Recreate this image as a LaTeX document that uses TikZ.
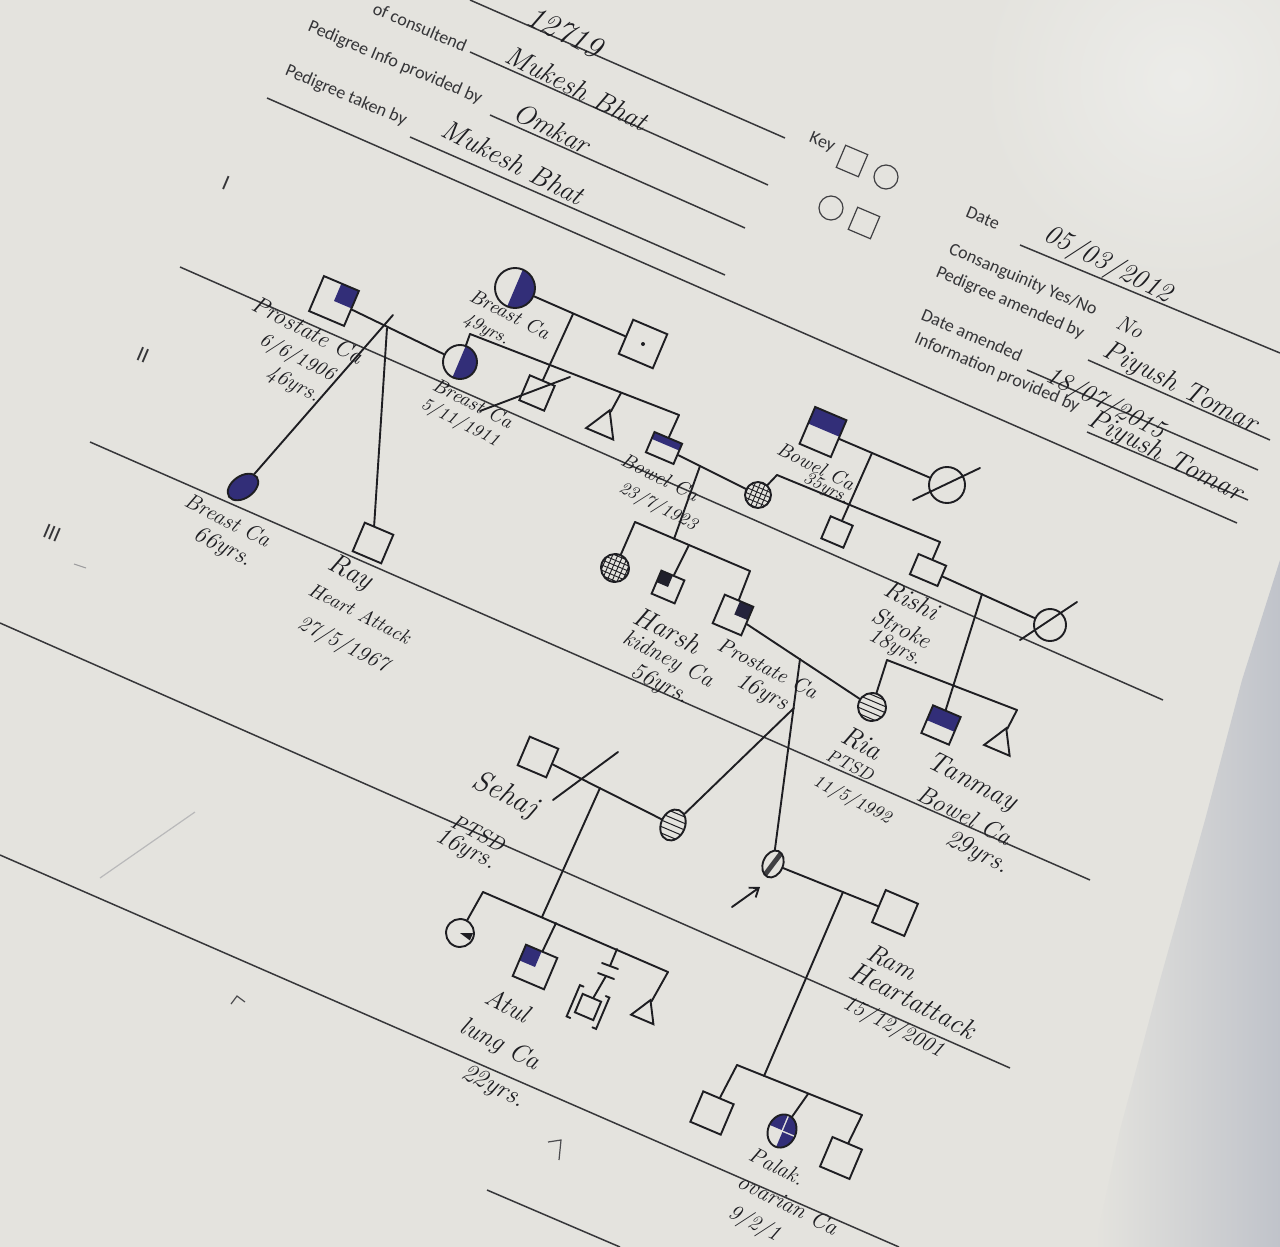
\documentclass[tikz,border=0pt]{standalone}
\usepackage{fontspec}
\newfontfamily\formfont{Carlito}
\usetikzlibrary{shapes.geometric,calc,arrows.meta}
\definecolor{paper}{RGB}{228,227,222}
\definecolor{paperlight}{RGB}{236,236,233}
\definecolor{edge}{RGB}{192,195,202}
\definecolor{ink}{RGB}{30,30,34}
\definecolor{pen}{RGB}{50,46,120}
\definecolor{rule}{RGB}{55,55,58}
\pgfdeclarelayer{back}
\pgfsetlayers{back,main}
\newcommand\hw[1]{\fontsize{#1}{#1}\selectfont\itshape}
% local drawing inside a symbol, in the tilted frame of the sheet
\newcommand\tint[2]{\begin{scope}[shift={(#1.center)},rotate=-23]#2\end{scope}}

\tikzset{
  sym/.style={draw=ink, line width=0.95pt, inner sep=0pt, rotate=-23},
  male/.style={sym, rectangle, minimum width=#1, minimum height=#1},
  boxwh/.style 2 args={sym, rectangle, minimum width=#1, minimum height=#2},
  female/.style={sym, circle, minimum size=#1},
  oval/.style 2 args={sym, ellipse, minimum width=#1, minimum height=#2},
  tri/.style={sym, regular polygon, regular polygon sides=3, minimum size=#1},
  keysym/.style={draw=ink!85, line width=0.6pt},
  link/.style={draw=ink, line width=0.95pt, line cap=round},
  rulefine/.style={draw=rule, line width=0.75pt},
  form/.style={font=\formfont\fontsize{9}{9}\selectfont, text=ink!90, rotate=-23, inner sep=0pt},
  hand/.style={font=\hw{#1}, text=ink, rotate=-27, inner sep=0pt},
  hand/.default=12,
}

\begin{document}
\begin{tikzpicture}[x=0.5pt,y=-0.5pt]
\useasboundingbox (0,0) rectangle (1280,1247);

% ---------- header of the form ----------
\node[form] (f1) at (420,27) {of consultend};
\node[form] (f2) at (395,63) {Pedigree Info provided by};
\node[form] (f3) at (346,96) {Pedigree taken by};
\node[form] (f4) at (822,143) {Key};
\node[form] (f5) at (983,218) {Date};
\node[form] (f6) at (1023,280) {Consanguinity Yes/No};
\node[form] (f7) at (1010,303) {Pedigree amended by};
\node[form] (f8) at (972,335) {Date amended};
\node[form] (f9) at (997,373) {Information provided by};
\node[form, font=\formfont\fontsize{11}{11}\selectfont] (g1) at (226,183) {I};
\node[form, font=\formfont\fontsize{11}{11}\selectfont] (g2) at (143,355) {II};
\node[form, font=\formfont\fontsize{11}{11}\selectfont] (g3) at (52,533) {III};

\node[hand=16] (h1) at (565,32) {12719};
\node[hand=14] (h2) at (577,88) {Mukesh Bhat};
\node[hand=14] (h3) at (552,128) {Omkar};
\node[hand=14] (h4) at (513,162) {Mukesh Bhat};
\node[hand=14] (h5) at (1108,265) {05/03/2012};
\node[hand=11] (h6) at (1130,327) {No};
\node[hand=14] (h7) at (1180,388) {Piyush Tomar};
\node[hand=13] (h8) at (1105,404) {18/07/2015};
\node[hand=14] (h9) at (1165,457) {Piyush Tomar};

% key symbols
\node[sym, keysym, rectangle, minimum size=12pt] (k1) at (852,161) {};
\node[sym, keysym, circle, minimum size=12pt] (k2) at (886,177) {};
\node[sym, keysym, circle, minimum size=12pt] (k3) at (831,208) {};
\node[sym, keysym, rectangle, minimum size=12pt] (k4) at (864,223) {};

% ---------- individuals ----------
% generation I
\node[male=19pt] (pa) at (334,301) {};
\node[female=20pt] (ba) at (515,288) {};
\node[male=18.5pt] (pb) at (643,344) {};
% generation II
\node[female=17pt] (bb) at (460,362) {};
\node[male=13.5pt] (sq2) at (537,393) {};
\node[tri=17pt] (tr1) at (603,426) {};
\node[boxwh={15pt}{11pt}] (bw1) at (664,448) {};
\node[female=13pt] (hc) at (758,495) {};
\node[boxwh={17pt}{20pt}] (bw2) at (823,432) {};
\node[female=18pt] (xc) at (947,485) {};
\node[male=12pt] (sm) at (837,532) {};
\node[boxwh={15pt}{11pt}] (ri) at (928,570) {};
\node[female=16pt] (xc2) at (1050,625) {};
% generation III
\node[draw=ink, fill=pen, line width=0.95pt, ellipse, inner sep=0pt,
      minimum width=17pt, minimum height=11pt, rotate=35] (bc) at (243,487) {};
\node[male=15.5pt] (ray) at (373,543) {};
\node[female=14pt] (gc) at (615,568) {};
\node[male=12.5pt] (ha) at (668,587) {};
\node[male=15.5pt] (pc) at (733,615) {};
\node[female=14pt] (ria) at (872,707) {};
\node[male=15pt] (tan) at (941,725) {};
\node[tri=16pt] (tr2) at (1000,743) {};
% generation IV
\node[male=15.5pt] (seh) at (538,757) {};
\node[oval={12pt}{16pt}] (so) at (673,825) {};
\node[oval={10pt}{14pt}] (pro) at (773,864) {};
\node[male=17.5pt] (ram) at (895,913) {};
% generation V
\node[female=14pt] (c1) at (460,933) {};
\node[male=17pt] (atul) at (535,967) {};
\node[male=10pt] (ad) at (588,1007) {};
\node[tri=14pt] (tr3) at (645,1013) {};
\node[male=16.5pt] (s1) at (712,1113) {};
\node[oval={14pt}{17pt}] (pal) at (782,1131) {};
\node[male=16pt] (s2) at (841,1158) {};

% ---------- connectors ----------
% Prostate Ca x Breast Ca 5/11/1911
\draw[link] (pa) -- (bb);
\coordinate (dA) at (393,315);
\coordinate (mA) at (387,328);
\draw[link] (dA) -- (bc);
\draw[link] (mA) -- (ray);
% Breast Ca 49 yrs x partner
\draw[link] (ba) -- (pb);
\coordinate (mB) at (573,314);
\coordinate (sB1) at (470,334);
\coordinate (sB2) at (679,415);
\coordinate (sB3) at (621,393);
\draw[link] (sB1) -- (sB2);
\draw[link] (sB1) -- (bb);
\draw[link] (mB) -- (sq2);
\draw[link] (sB3) -- (tr1);
\draw[link] (sB2) -- (bw1);
\draw[link] ($(sq2)+(-57,18)$) -- ($(sq2)+(33,-16)$);
% Bowel Ca 23/7/1923 x partner
\draw[link] (bw1) -- (hc);
\coordinate (mC) at (700,466);
\coordinate (sC1) at (635,522);
\coordinate (sC2) at (750,571);
\coordinate (sCm) at (674,539);
\coordinate (sC3) at (689,545);
\draw[link] (mC) -- (sCm);
\draw[link] (sC1) -- (sC2);
\draw[link] (sC1) -- (gc);
\draw[link] (sC3) -- (ha);
\draw[link] (sC2) -- (pc);
% Bowel Ca 35 yrs x partner
\draw[link] (bw2) -- (xc);
\draw[link] ($(xc)+(-34,15)$) -- ($(xc)+(33,-17)$);
\coordinate (mD) at (872,453);
\coordinate (sD1) at (777,475);
\coordinate (sD2) at (940,542);
\draw[link] (sD1) -- (sD2);
\draw[link] (mD) -- (sm);
\draw[link] (sD1) -- (hc);
\draw[link] (sD2) -- (ri);
% Rishi x partner
\draw[link] (ri) -- (xc2);
\draw[link] ($(xc2)+(-30,15)$) -- ($(xc2)+(27,-23)$);
\coordinate (mE) at (982,594);
\coordinate (sE1) at (887,660);
\coordinate (sE2) at (1017,710);
\draw[link] (sE1) -- (sE2);
\draw[link] (mE) -- (tan);
\draw[link] (sE1) -- (ria);
\draw[link] (sE2) -- (tr2);
% Prostate Ca 16 yrs x Ria
\draw[link] (pc) -- (ria);
\coordinate (mF) at (800,659);
\coordinate (dF) at (794,708);
\draw[link] (mF) -- (pro);
\draw[link] (dF) -- (so);
% Sehaj x partner
\draw[link] (seh) -- (so);
\draw[link] ($(seh)+(15,43)$) -- ($(seh)+(80,-5)$);
\coordinate (mG) at (600,788);
\coordinate (sG1) at (483,892);
\coordinate (sG2) at (668,972);
\coordinate (sGm) at (542,917);
\coordinate (sG3) at (556,923);
\coordinate (sG4) at (617,949);
\coordinate (bA) at (610,966);
\coordinate (bB) at (606,976);
\draw[link] (mG) -- (sGm);
\draw[link] (sG1) -- (sG2);
\draw[link] (sG1) -- (c1);
\draw[link] (sG3) -- (atul);
\draw[link] (sG4) -- (bA);
\draw[link] (bB) -- (ad);
\draw[link] ($(bA)+(-8,-3)$) -- ($(bA)+(8,3)$);
\draw[link] ($(bB)+(-8,-3)$) -- ($(bB)+(8,3)$);
\draw[link] (sG2) -- (tr3);
\tint{ad}{\draw[link] (-6pt,8.5pt) -- (-8pt,8.5pt) -- (-8pt,-8.5pt) -- (-6pt,-8.5pt);
          \draw[link] (6pt,8.5pt) -- (8pt,8.5pt) -- (8pt,-8.5pt) -- (6pt,-8.5pt);}
% proband x Ram
\draw[link] (pro) -- (ram);
\coordinate (mH) at (843,892);
\coordinate (sH1) at (737,1065);
\coordinate (sH2) at (862,1115);
\coordinate (sHm) at (764,1076);
\coordinate (sH3) at (808,1094);
\draw[link] (mH) -- (sHm);
\draw[link] (sH1) -- (sH2);
\draw[link] (sH1) -- (s1);
\draw[link] (sH3) -- (pal);
\draw[link] (sH2) -- (s2);
% proband arrow
\coordinate (arT) at (732,907);
\coordinate (arH) at (760,887);
\draw[link, -{Straight Barb[length=4pt,width=6pt]}] (arT) -- (arH);

% ---------- handwritten notes ----------
\node[hand=12] (lpa1) at (308,330) {Prostate Ca};
\node[hand=10] (lpa2) at (297,358) {6/6/1906};
\node[hand=11] (lpa3) at (293,385) {46yrs.};
\node[hand=10] (lba1) at (510,314) {Breast Ca};
\node[hand=9] (lba2) at (486,330) {49yrs.};
\node[hand=10] (lbb1) at (473,403) {Breast Ca};
\node[hand=9] (lbb2) at (460,423) {5/11/1911};
\node[hand=11] (lbc1) at (228,520) {Breast Ca};
\node[hand=12] (lbc2) at (223,548) {66yrs.};
\node[hand=14] (lry1) at (350,573) {Ray};
\node[hand=10] (lry2) at (360,613) {Heart Attack};
\node[hand=11] (lry3) at (343,645) {27/5/1967};
\node[hand=10] (lbw1) at (660,477) {Bowel Ca};
\node[hand=9] (lbw2) at (658,507) {23/7/1923};
\node[hand=10] (lbx1) at (816,466) {Bowel Ca};
\node[hand=9] (lbx2) at (826,489) {35yrs.};
\node[hand=13] (lri1) at (912,600) {Rishi};
\node[hand=12] (lri2) at (902,628) {Stroke};
\node[hand=11] (lri3) at (895,648) {18yrs.};
\node[hand=14] (lha1) at (668,630) {Harsh};
\node[hand=11.5] (lha2) at (668,660) {kidney Ca};
\node[hand=12] (lha3) at (660,685) {56yrs.};
\node[hand=10.5] (lpc1) at (768,668) {Prostate Ca};
\node[hand=12] (lpc2) at (762,693) {16yrs};
\node[hand=14] (lria1) at (862,743) {Ria};
\node[hand=9] (lria2) at (850,765) {PTSD};
\node[hand=9] (lria3) at (852,800) {11/5/1992};
\node[hand=14] (ltn1) at (972,783) {Tanmay};
\node[hand=12.5] (ltn2) at (965,815) {Bowel Ca};
\node[hand=13] (ltn3) at (977,853) {29yrs.};
\node[hand=15] (lse1) at (505,795) {Sehaj};
\node[hand=10.5] (lse2) at (478,833) {PTSD};
\node[hand=12.5] (lse3) at (466,850) {16yrs.};
\node[hand=13] (lat1) at (508,1005) {Atul};
\node[hand=13] (lat2) at (500,1045) {lung Ca};
\node[hand=13] (lat3) at (493,1087) {22yrs.};
\node[hand=13] (lrm1) at (892,962) {Ram};
\node[hand=14] (lrm2) at (913,1000) {Heartattack};
\node[hand=11] (lrm3) at (893,1028) {15/12/2001};
\node[hand=11] (lpl1) at (777,1166) {Palak.};
\node[hand=11.5] (lpl2) at (788,1204) {ovarian Ca};
\node[hand=11] (lpl3) at (754,1224) {9/2/1};

% ---------- sheet, rules and shadings of the symbols ----------
\begin{pgfonlayer}{back}
  \fill[paper] (0,0) rectangle (1280,1247);
  \shade[inner color=paperlight, outer color=paper] (1180,80) circle[radius=200];
  \shade[left color=paper, right color=edge]
    (1280,560) -- (1242,680) -- (1205,820) -- (1160,980) -- (1120,1130) -- (1095,1247)
    -- (1280,1247) -- cycle;
  % form rules
  \draw[rulefine] (470,0) -- (785,138);
  \draw[rulefine] (470,52) -- (768,185);
  \draw[rulefine] (490,115) -- (745,228);
  \draw[rulefine] (410,137) -- (725,275);
  \draw[rulefine] (267,98) -- (1237,523);
  \draw[rulefine] (1020,245) -- (1280,353);
  \draw[rulefine] (1088,360) -- (1270,440);
  \draw[rulefine] (1027,370) -- (1258,470);
  \draw[rulefine] (1087,432) -- (1248,500);
  % generation rules
  \draw[rulefine] (180,267) -- (1163,700);
  \draw[rulefine] (90,442) -- (1090,880);
  \draw[rulefine] (0,623) -- (1010,1068);
  \draw[rulefine] (0,855) -- (899,1247);
  \draw[rulefine] (487,1190) -- (620,1247);
  % stray pencil marks
  \draw[rule!50, line width=0.5pt] (74,564) -- (86,568);
  \draw[rule!35, line width=0.6pt] (100,878) -- (195,812);
  \draw[ink!80, line width=0.6pt] (231,1004) -- (237,996) -- (245,1002);
  \draw[ink!80, line width=0.6pt] (548,1142) -- (561,1140) -- (559,1160);

  % affected status fills
  \tint{pa}{\fill[pen] (0pt,0pt) rectangle (9.5pt,9.5pt);}
  \tint{ba}{\clip (0,0) circle[radius=10pt]; \fill[pen] (0pt,-11pt) rectangle (11pt,11pt);}
  \fill[ink] (pb.center) circle[radius=1pt];
  \tint{bb}{\clip (0,0) circle[radius=8.5pt]; \fill[pen] (-0.5pt,-9pt) rectangle (9pt,9pt);}
  \tint{bw1}{\fill[pen] (-7.5pt,1.8pt) rectangle (7.5pt,5.5pt);}
  \tint{bw2}{\fill[pen] (-8.5pt,1pt) rectangle (8.5pt,10pt);}
  \tint{hc}{\clip (0,0) circle[radius=6.5pt];
    \foreach \k in {-6,-3.6,...,6}{\draw[ink,line width=0.45pt] (\k pt,-7pt) -- (\k pt,7pt);
      \draw[ink,line width=0.45pt] (-7pt,\k pt) -- (7pt,\k pt);}}
  \tint{gc}{\clip (0,0) circle[radius=7pt];
    \foreach \k in {-6,-3.6,...,6}{\draw[ink,line width=0.45pt] (\k pt,-7pt) -- (\k pt,7pt);
      \draw[ink,line width=0.45pt] (-7pt,\k pt) -- (7pt,\k pt);}}
  \tint{ha}{\fill[ink!90!pen] (-6.25pt,0pt) rectangle (0pt,6.25pt);}
  \tint{pc}{\fill[ink!70!pen] (0.5pt,0.5pt) rectangle (7.75pt,7.75pt);}
  \tint{ria}{\clip (0,0) circle[radius=7pt];
    \foreach \k in {-5.6,-2.8,...,5.6}{\draw[ink,line width=0.5pt] (-8pt,\k pt) -- (8pt,\k pt);}}
  \tint{tan}{\fill[pen] (-7.5pt,-0.5pt) rectangle (7.5pt,7.5pt);}
  \tint{so}{\clip (0,0) ellipse[x radius=6pt,y radius=8pt];
    \foreach \k in {-6,-3,...,6}{\draw[ink,line width=0.5pt] (-7pt,\k pt) -- (7pt,\k pt);}}
  \tint{pro}{\clip (0,0) ellipse[x radius=5pt,y radius=7pt];
    \fill[ink!85] (-3pt,-7pt) -- (-0.5pt,-7pt) -- (3pt,7pt) -- (0.5pt,7pt) -- cycle;}
  \tint{c1}{\fill[ink] (0pt,0pt) -- (6pt,2.5pt) -- (6pt,-1.5pt) -- cycle;}
  \tint{atul}{\fill[pen] (-8.5pt,0pt) rectangle (0pt,8.5pt);}
  \tint{pal}{\clip (0,0) ellipse[x radius=7pt,y radius=8.5pt];
    \fill[pen] (-8pt,0.4pt) rectangle (-0.4pt,9pt);
    \fill[pen] (0.4pt,0.4pt) rectangle (8pt,9pt);
    \fill[pen] (0.4pt,-9pt) rectangle (8pt,-0.4pt);}
\end{pgfonlayer}
\end{tikzpicture}
\end{document}
